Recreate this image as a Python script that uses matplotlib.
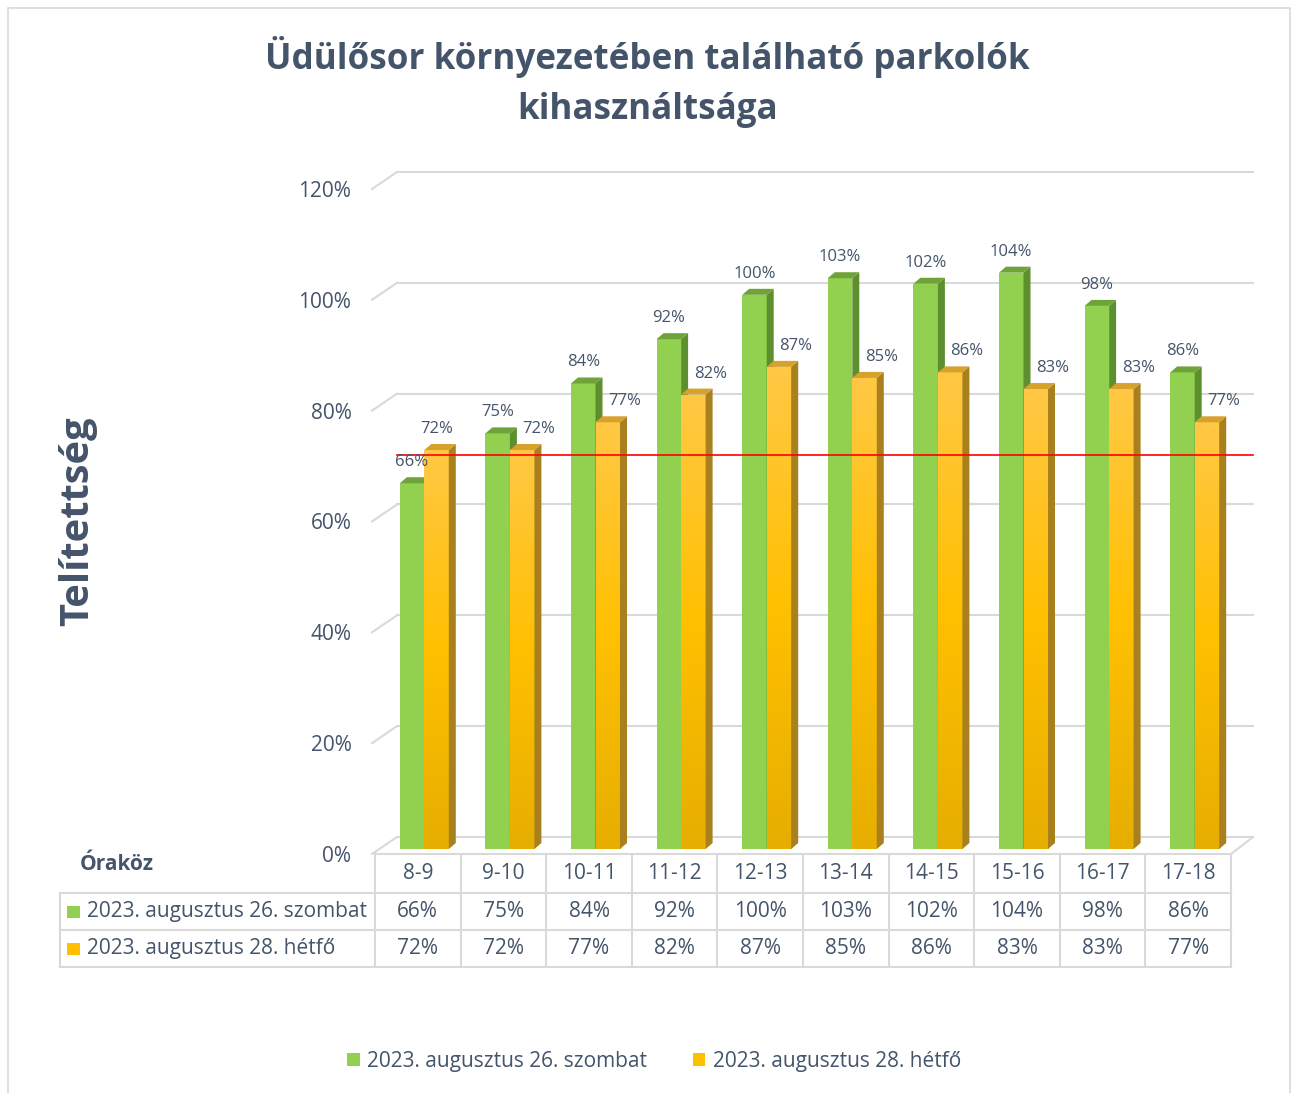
import matplotlib
matplotlib.use('Agg')
import matplotlib.pyplot as plt
import numpy as np
from matplotlib.patches import Polygon, Rectangle, Patch
from matplotlib.colors import LinearSegmentedColormap

# ---------------- data ----------------
categories = ['8-9', '9-10', '10-11', '11-12', '12-13', '13-14', '14-15', '15-16', '16-17', '17-18']
saturday = [0.66, 0.75, 0.84, 0.92, 1.00, 1.03, 1.02, 1.04, 0.98, 0.86]
monday = [0.72, 0.72, 0.77, 0.82, 0.87, 0.85, 0.86, 0.83, 0.83, 0.77]
series_names = ['2023. augusztus 26. szombat', '2023. augusztus 28. hétfő']
yticks = [0.0, 0.2, 0.4, 0.6, 0.8, 1.0, 1.2]
threshold = 0.69
title_text = 'Üdülősor környezetében található parkolók\nkihasználtsága'
ylabel_text = 'Telítettség'
xlabel_text = 'Óraköz'

# ---------------- style ----------------
plt.rcParams['font.family'] = ['Open Sans', 'DejaVu Sans']
TXT = '#44546A'
GRID = '#D9D9D9'
G_FRONT, G_SIDE, G_TOP = '#92D050', '#5E8F2E', '#6FA33A'
O_SIDE, O_TOP = '#A8801E', '#D7A22C'
O_CMAP = LinearSegmentedColormap.from_list('o', ['#E6AE00', '#FFC000', '#FFC845'])

W, H = 1295, 1093
fig = plt.figure(figsize=(W / 100, H / 100), dpi=100)
fig.patch.set_facecolor('white')
ax = fig.add_axes([375 / W, 1 - 854 / H, (1231 - 375) / W, (854 - 189) / H])
ax.set_xlim(-0.5, len(categories) - 0.5)
ax.set_ylim(0, 1.2)
ax.patch.set_alpha(0)
for s in ax.spines.values():
    s.set_visible(False)
ax.set_xticks([])
ax.set_yticks(yticks)
ax.set_yticklabels([f'{int(round(t * 100))}%' for t in yticks], fontsize=15, color=TXT)
ax.tick_params(axis='y', length=0, pad=17)

sx = ax.transData.transform((1, 0))[0] - ax.transData.transform((0, 0))[0]
sy = ax.transData.transform((0, 1))[1] - ax.transData.transform((0, 0))[1]


def px(dx, dy):
    return dx / sx, dy / sy


x_lo, x_hi = -0.5, len(categories) - 0.5
wx, wy = px(22, 17)      # back wall depth
dlx, _ = px(-3, 0)

# grid on back wall + left wall diagonals
for t in yticks:
    ax.plot([x_lo + wx, x_hi + wx], [t + wy, t + wy], color=GRID, lw=1.5, zorder=1, clip_on=False)
    ax.plot([x_lo + dlx, x_lo + wx], [t, t + wy], color=GRID, lw=1.5, zorder=1, clip_on=False)
# floor front edge + right diagonal
ax.plot([x_lo, x_hi], [0, 0], color=GRID, lw=1.5, zorder=1, clip_on=False)
ax.plot([x_hi, x_hi + wx], [0, wy], color=GRID, lw=1.5, zorder=1, clip_on=False)

# bars
bw, _ = px(24.5, 0)
goff, _ = px(-18, 0)
_, by = px(0, 5)
ddx, ddy = px(7, 6)


def draw_bar(x0, v, front, side, top, gradient=False):
    if gradient:
        rect = Rectangle((x0, by), bw, v, facecolor='none', edgecolor='none', zorder=3)
        ax.add_patch(rect)
        grad = np.linspace(0, 1, 256).reshape(-1, 1)
        im = ax.imshow(grad, cmap=O_CMAP, extent=[x0, x0 + bw, by, by + v], origin='lower',
                       aspect='auto', zorder=3)
        im.set_clip_path(rect)
    else:
        ax.add_patch(Rectangle((x0, by), bw, v, facecolor=front, edgecolor='none', zorder=3))
    ax.add_patch(Polygon([(x0 + bw, by), (x0 + bw + ddx, by + ddy), (x0 + bw + ddx, by + v + ddy),
                          (x0 + bw, by + v)], closed=True, facecolor=side, edgecolor='none', zorder=3))
    ax.add_patch(Polygon([(x0, by + v), (x0 + bw, by + v), (x0 + bw + ddx, by + v + ddy),
                          (x0 + ddx, by + v + ddy)], closed=True, facecolor=top, edgecolor='none', zorder=3))


_, lab_dy = px(0, 21)
shift_x, _ = px(17, 0)
for i, (g, o) in enumerate(zip(saturday, monday)):
    xg = i + goff
    xo = xg + bw
    draw_bar(xg, g, G_FRONT, G_SIDE, G_TOP)
    draw_bar(xo, o, None, O_SIDE, O_TOP, gradient=True)
    ax.text(xg + bw / 2, by + g + lab_dy, f'{int(round(g * 100))}%', ha='center', va='center',
            fontsize=12, color=TXT, zorder=6)
    ox = xo + bw / 2 + (shift_x if o < g else 0)
    ax.text(ox, by + o + lab_dy, f'{int(round(o * 100))}%', ha='center', va='center',
            fontsize=12, color=TXT, zorder=6)

# threshold line on back wall
ax.plot([x_lo + wx, x_hi + wx], [threshold + wy, threshold + wy], color='#FF0000', lw=1.2, zorder=5,
        clip_on=False)
ax.set_xlim(x_lo, x_hi)
ax.set_ylim(0, 1.2)

# ---------------- data table ----------------
_, r1 = px(0, -39)
_, r2 = px(0, -76)
_, r3 = px(0, -113)
lab_left, _ = px(-315, 0)
lab_left = x_lo + lab_left
tbl_kw = dict(color=GRID, lw=1.5, zorder=1, clip_on=False)
for yl in (r1, r2, r3):
    ax.plot([lab_left, x_hi], [yl, yl], **tbl_kw)
ax.plot([lab_left, lab_left], [r1, r3], **tbl_kw)
for k in range(len(categories) + 1):
    ax.plot([x_lo + k, x_lo + k], [0, r3], **tbl_kw)

TFS = 15
for i, c in enumerate(categories):
    ax.text(i, (0 + r1) / 2, c, ha='center', va='center', fontsize=TFS, color=TXT, clip_on=False)
    ax.text(i, (r1 + r2) / 2, f'{int(round(saturday[i] * 100))}%', ha='center', va='center',
            fontsize=TFS, color=TXT, clip_on=False)
    ax.text(i, (r2 + r3) / 2, f'{int(round(monday[i] * 100))}%', ha='center', va='center',
            fontsize=TFS, color=TXT, clip_on=False)

kx, _ = px(7, 0)
kw, kh = px(13, 12)
tx, _ = px(27, 0)
for (yc, col, name) in [((r1 + r2) / 2, G_FRONT, series_names[0]), ((r2 + r3) / 2, '#FFC000', series_names[1])]:
    ax.add_patch(Rectangle((lab_left + kx, yc - kh / 2), kw, kh, facecolor=col, edgecolor='none',
                           clip_on=False))
    ax.text(lab_left + tx, yc, name, ha='left', va='center', fontsize=TFS, color=TXT, clip_on=False)

ox_, _ = px(20, 0)
_, oy_ = px(0, -10)
ax.text(lab_left + ox_, oy_, xlabel_text, ha='left', va='center', fontsize=TFS, fontweight='bold',
        color=TXT, clip_on=False)

# ---------------- titles ----------------
fig.text(0.5, 1 - 82 / H, title_text, ha='center', va='center', fontsize=25.2, fontweight='bold',
         color=TXT, linespacing=1.5)
fig.text(78 / W, 1 - 521 / H, ylabel_text, rotation=90, ha='center', va='center', fontsize=28.7,
         fontweight='bold', color=TXT)

# legend
handles = [Patch(facecolor=G_FRONT), Patch(facecolor='#FFC000')]
fig.legend(handles, series_names, loc='center', bbox_to_anchor=(654 / W, 1 - 1061 / H), ncol=2,
           frameon=False, handlelength=0.6, handleheight=0.6, handletextpad=0.35,
           columnspacing=2.2, prop={'size': TFS}, labelcolor=TXT)

# outer border
fig.add_artist(Rectangle((8 / W, -0.01), (1290 - 8) / W, 1.01 - 8 / H, transform=fig.transFigure,
                         fill=False, edgecolor=GRID, lw=1.2))

fig.savefig('out.png', dpi=100, facecolor='white')
